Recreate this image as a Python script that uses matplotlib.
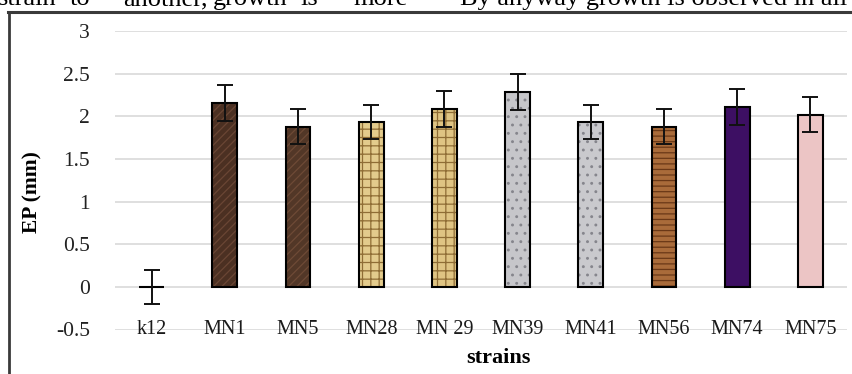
import numpy as np
import matplotlib
matplotlib.use("Agg")
import matplotlib.pyplot as plt
from matplotlib.lines import Line2D

plt.rcParams['font.family'] = ['Liberation Serif', 'DejaVu Serif']
plt.rcParams['hatch.linewidth'] = 0.9

# data
strains = ['k12', 'MN1', 'MN5', 'MN28', 'MN 29', 'MN39', 'MN41', 'MN56', 'MN74', 'MN75']
ep_mm = [0.0, 2.16, 1.88, 1.93, 2.09, 2.28, 1.93, 1.88, 2.11, 2.02]
ep_err = [0.20, 0.21, 0.21, 0.20, 0.21, 0.21, 0.20, 0.21, 0.21, 0.21]
y_ticks = [-0.5, 0, 0.5, 1, 1.5, 2, 2.5, 3]

# bar looks (textures approximated with hatches)
face_cols = ['#ffffff', '#4b3022', '#523727', '#e3cb8c', '#dfc483',
             '#c6c6ca', '#c9c9cd', '#a96b3a', '#3d0f63', '#ecc5c5']
hatch_cols = ['#ffffff', '#6a4634', '#6e4a36', '#8f6d35', '#8f6d35',
              '#85858c', '#85858c', '#6a3817', '#4b1a75', '#e0b4b4']
hatches = [None, '////', '////', '++', '++', '..', '..', '---', None, None]

W, H = 853, 374
fig = plt.figure(figsize=(W / 100, H / 100), dpi=100)
ax = fig.add_axes([115 / W, 1 - 329.5 / H, (847 - 115) / W, (329.5 - 31) / H])

x = np.arange(len(strains))
bw = 0.34
ax.bar(x, ep_mm, width=bw, color=face_cols, edgecolor=hatch_cols,
       hatch=hatches, linewidth=0, zorder=2)
ax.bar(x, ep_mm, width=bw, fill=False, edgecolor='black', linewidth=1.5, zorder=3)
ax.errorbar(x, ep_mm, yerr=ep_err, fmt='none', ecolor='#111111',
            elinewidth=1.4, capsize=6, capthick=1.4, zorder=4)

ax.set_xlim(-0.5, len(strains) - 0.5)
ax.set_ylim(-0.5, 3)
ax.set_yticks(y_ticks)
ax.set_yticklabels([f'{t:g}' for t in y_ticks], fontsize=15.5, color='#222222')
ax.tick_params(axis='y', length=0, pad=18)
ax.set_xticks([])
ax.grid(axis='y', color='#d6d6d6', linewidth=1.1, zorder=0)
ax.set_axisbelow(True)
for s in ax.spines.values():
    s.set_visible(False)

for i, name in enumerate(strains):
    ax.text(i, -0.5, name, ha='center', va='center', fontsize=14.5,
            color='#1a1a1a', zorder=5)

fig.text(32 / W, 1 - 192 / H, 'EP (mm)', rotation=90, ha='center', va='center',
         fontsize=15.5, fontweight='bold')
fig.text(498 / W, 1 - 358 / H, 'strains', ha='center', va='center',
         fontsize=16, fontweight='bold')

# surrounding frame of the figure box
fig.add_artist(Line2D([9 / W, 9 / W], [0, 1 - 12 / H], color='#3a3a3a', linewidth=2))
fig.add_artist(Line2D([8 / W, 1], [1 - 12 / H, 1 - 12 / H], color='#3a3a3a', linewidth=2.2))

# body text of the page, cut off at the top as in the scan
words = [(-2, 'strain'), (70, 'to'), (123, 'another,'), (213, 'growth'),
         (300, 'is'), (353, 'more'), (460, 'By anyway growth is observed in all')]
for px, w in words:
    fig.text(px / W, 1 - 5 / H, w, ha='left', va='baseline', fontsize=19)

fig.savefig('out.png', dpi=100)
